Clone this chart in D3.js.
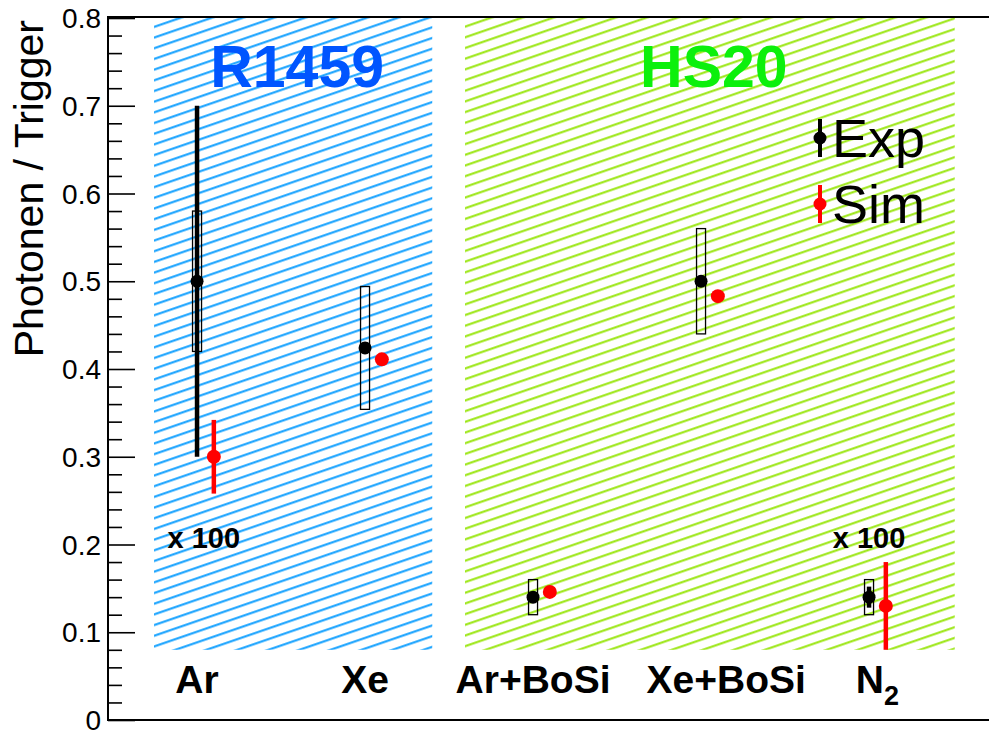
<!DOCTYPE html>
<html>
<head>
<meta charset="utf-8">
<script src="https://cdn.jsdelivr.net/npm/d3@7"></script>
<style>
  body { margin: 0; background: #fff; }
  text { font-family: "Liberation Sans", Arial, Helvetica, sans-serif; }
</style>
</head>
<body>
<svg id="chart" width="989" height="731"></svg>
<script>
// data
var categories = ["Ar", "Xe", "Ar+BoSi", "Xe+BoSi", "N"];
var labelPos = [0, 1, 2, 3.15, 4.05];
var expVal = [0.5, 0.424, 0.14, 0.5, 0.14];
var expErr = [0.2, 0.004, 0.004, 0.004, 0.012];
var sysLo = [0.42, 0.354, 0.12, 0.44, 0.12];
var sysHi = [0.58, 0.494, 0.16, 0.56, 0.16];
var simVal = [0.30, 0.411, 0.146, 0.483, 0.13];
var simErr = [0.042, 0, 0, 0, 0.05];
var yTicks = [0, 0.1, 0.2, 0.3, 0.4, 0.5, 0.6, 0.7, 0.8];
var regions = [
  {name: "R1459", x0: -0.256, x1: 1.4, y0: 0.08, color: "#11a0ff", title: "#0055ff"},
  {name: "HS20", x0: 1.595, x1: 4.51, y0: 0.08, color: "#99e60f", title: "#0cf00c"}
];
var scaleNotes = [{x: 0.04, y: 0.2, text: "x 100"}, {x: 4.0, y: 0.2, text: "x 100"}];

var svg = d3.select("svg#chart"),
    margin = {left: 108, top: 18, bottom: 720};

var x = d3.scaleLinear().domain([-0.53, 4.75]).range([108, 108 + 5.28 * 168]);
var y = d3.scaleLinear().domain([0, 0.8]).range([margin.bottom, margin.top]);

var defs = svg.append("defs");
regions.forEach(function(r, i) {
  var p = defs.append("pattern")
      .attr("id", "hatch" + i)
      .attr("patternUnits", "userSpaceOnUse")
      .attr("width", 40)
      .attr("height", 10.1)
      .attr("patternTransform", "rotate(-19)");
  p.append("line")
      .attr("x1", -5).attr("x2", 45)
      .attr("y1", 5).attr("y2", 5)
      .attr("stroke", r.color)
      .attr("stroke-width", 2);
});

// hatched regions
svg.selectAll(".region")
  .data(regions)
  .enter().append("rect")
    .attr("class", "region")
    .attr("x", function(d) { return x(d.x0); })
    .attr("y", y(0.8))
    .attr("width", function(d) { return x(d.x1) - x(d.x0); })
    .attr("height", function(d) { return y(d.y0) - y(0.8); })
    .attr("fill", function(d, i) { return "url(#hatch" + i + ")"; });

svg.selectAll(".rtitle")
  .data(regions)
  .enter().append("text")
    .attr("x", function(d) { return (x(d.x0) + x(d.x1)) / 2 + 4; })
    .attr("y", 87)
    .attr("text-anchor", "middle")
    .attr("font-size", 59)
    .attr("font-weight", "bold")
    .attr("fill", function(d) { return d.title; })
    .text(function(d) { return d.name; });

// frame
svg.append("line").attr("x1", 108).attr("x2", 989).attr("y1", margin.top - 1).attr("y2", margin.top - 1)
    .attr("stroke", "#000").attr("stroke-width", 2);
svg.append("line").attr("x1", 108).attr("x2", 989).attr("y1", margin.bottom).attr("y2", margin.bottom)
    .attr("stroke", "#000").attr("stroke-width", 2);

// y axis
var yAxis = d3.axisRight(y).tickValues(yTicks).tickSize(27).tickFormat("");
var ga = svg.append("g").attr("transform", "translate(108,0)").call(yAxis);
ga.select(".domain").remove();
ga.selectAll(".tick line").attr("stroke", "#000").attr("stroke-width", 1.6);
var minor = d3.range(0, 0.8001, 0.02).filter(function(v) { return Math.abs(v * 10 - Math.round(v * 10)) > 0.01; });
var gm = svg.append("g").attr("transform", "translate(108,0)")
    .call(d3.axisRight(y).tickValues(minor).tickSize(14).tickFormat(""));
gm.select(".domain").remove();
gm.selectAll(".tick line").attr("stroke", "#000").attr("stroke-width", 1.6);
svg.append("line").attr("x1", 108).attr("x2", 108).attr("y1", margin.top - 2).attr("y2", margin.bottom + 1)
    .attr("stroke", "#000").attr("stroke-width", 2);

svg.selectAll(".ylab")
  .data(yTicks)
  .enter().append("text")
    .attr("x", 101)
    .attr("y", function(d) { return y(d) + 10; })
    .attr("text-anchor", "end")
    .attr("font-size", 28)
    .text(function(d) { return d === 0 ? "0" : d3.format(".1f")(d); });

svg.append("text")
    .attr("transform", "translate(43,20) rotate(-90)")
    .attr("text-anchor", "end")
    .attr("font-size", 41)
    .text("Photonen / Trigger");

// category labels
var cl = svg.selectAll(".cat")
  .data(categories)
  .enter().append("text")
    .attr("x", function(d, i) { return x(labelPos[i]); })
    .attr("y", 693)
    .attr("text-anchor", "middle")
    .attr("font-size", 39)
    .attr("font-weight", "bold")
    .text(function(d) { return d; });
cl.filter(function(d) { return d === "N"; })
  .append("tspan").attr("font-size", 27).attr("dy", 12).text("2");

svg.selectAll(".note")
  .data(scaleNotes)
  .enter().append("text")
    .attr("x", function(d) { return x(d.x); })
    .attr("y", function(d) { return y(d.y) + 3; })
    .attr("text-anchor", "middle")
    .attr("font-size", 29)
    .attr("font-weight", "bold")
    .text(function(d) { return d.text; });

// systematic boxes
var idx = d3.range(categories.length);
svg.selectAll(".sys")
  .data(idx)
  .enter().append("rect")
    .attr("x", function(i) { return x(i) - 4.5; })
    .attr("y", function(i) { return y(sysHi[i]); })
    .attr("width", 9)
    .attr("height", function(i) { return y(sysLo[i]) - y(sysHi[i]); })
    .attr("fill", "none")
    .attr("stroke", "#000")
    .attr("stroke-width", 1.3);

// exp error bars + markers
svg.selectAll(".experr")
  .data(idx)
  .enter().append("line")
    .attr("x1", function(i) { return x(i); })
    .attr("x2", function(i) { return x(i); })
    .attr("y1", function(i) { return y(expVal[i] - expErr[i]); })
    .attr("y2", function(i) { return y(expVal[i] + expErr[i]); })
    .attr("stroke", "#000")
    .attr("stroke-width", 4.5);
svg.selectAll(".exp")
  .data(idx)
  .enter().append("circle")
    .attr("cx", function(i) { return x(i); })
    .attr("cy", function(i) { return y(expVal[i]); })
    .attr("r", 6.5)
    .attr("fill", "#000");

// sim
var simOff = 0.1;
svg.selectAll(".simerr")
  .data(idx.filter(function(i) { return simErr[i] > 0; }))
  .enter().append("line")
    .attr("x1", function(i) { return x(i + simOff); })
    .attr("x2", function(i) { return x(i + simOff); })
    .attr("y1", function(i) { return y(simVal[i] - simErr[i]); })
    .attr("y2", function(i) { return y(simVal[i] + simErr[i]); })
    .attr("stroke", "#ff0000")
    .attr("stroke-width", 4.5);
svg.selectAll(".sim")
  .data(idx)
  .enter().append("circle")
    .attr("cx", function(i) { return x(i + simOff); })
    .attr("cy", function(i) { return y(simVal[i]); })
    .attr("r", 7)
    .attr("fill", "#ff0000");

// legend
var legend = [{name: "Exp", color: "#000", y: 138}, {name: "Sim", color: "#ff0000", y: 204}];
var lg = svg.selectAll(".leg")
  .data(legend)
  .enter().append("g")
    .attr("transform", function(d) { return "translate(820," + d.y + ")"; });
lg.append("line").attr("y1", -19).attr("y2", 19)
    .attr("stroke", function(d) { return d.color; }).attr("stroke-width", 4);
lg.append("circle").attr("r", 6.5).attr("fill", function(d) { return d.color; });
lg.append("text").attr("x", 12).attr("y", 19)
    .attr("font-size", 54)
    .text(function(d) { return d.name; });
</script>
</body>
</html>
